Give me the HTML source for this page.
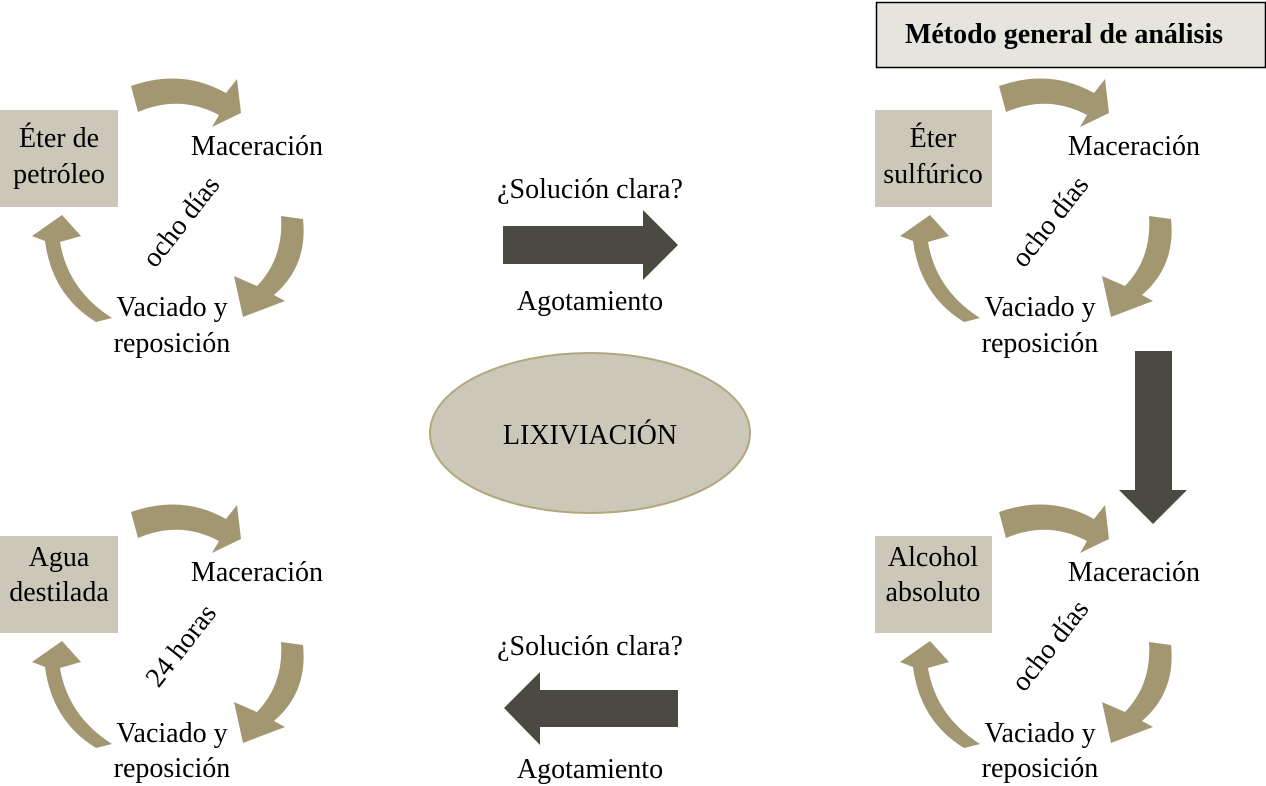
<!DOCTYPE html>
<html><head><meta charset="utf-8"><style>
html,body{margin:0;padding:0;background:#fff}
svg{display:block}
text{font-family:"Liberation Serif",serif;fill:#000}
</style></head><body>
<svg width="1266" height="786" viewBox="0 0 1266 786" xmlns="http://www.w3.org/2000/svg">
<defs>
<g id="cyc" fill="#a39772">
<path d="M131,86 Q182,68 226,93 L237,79 L241,113 L212,127 L219,115 Q180,94 138,112 Z"/>
<path d="M281,216 L303,219 Q308,266 274,295 L285,301 L243,317 L234,276 L257,286 Q284,258 281,216 Z"/>
<path d="M112,318 Q68,290 60,242 L81,236 L62,215 L32,236 L45,241 Q52,295 96,322 Z"/>
</g>
</defs>
<use href="#cyc" x="0" y="0"/>
<use href="#cyc" x="0" y="426"/>
<use href="#cyc" x="868" y="0"/>
<use href="#cyc" x="868" y="426"/>

<rect x="0" y="110" width="118" height="97" fill="#cbc8b9"/>
<rect x="0" y="536" width="118" height="97" fill="#cbc8b9"/>
<rect x="875" y="110" width="117" height="97" fill="#cbc8b9"/>
<rect x="875" y="536" width="117" height="97" fill="#cbc8b9"/>

<g font-size="28" text-anchor="middle">
<text x="59" y="147">Éter de</text><text x="59" y="183">petróleo</text>
<text x="59" y="566">Agua</text><text x="59" y="601">destilada</text>
<text x="933" y="147">Éter</text><text x="933" y="183">sulfúrico</text>
<text x="933" y="566">Alcohol</text><text x="933" y="601">absoluto</text>

<text x="257" y="155">Maceración</text>
<text x="257" y="581">Maceración</text>
<text x="1134" y="155">Maceración</text>
<text x="1134" y="581">Maceración</text>

<text x="172" y="316">Vaciado y</text><text x="172" y="352">reposición</text>
<text x="172" y="742">Vaciado y</text><text x="172" y="777">reposición</text>
<text x="1040" y="316">Vaciado y</text><text x="1040" y="352">reposición</text>
<text x="1040" y="742">Vaciado y</text><text x="1040" y="777">reposición</text>

<text transform="translate(188,227) rotate(-52)">ocho días</text>
<text transform="translate(188,651) rotate(-52)">24 horas</text>
<text transform="translate(1057,227) rotate(-52)">ocho días</text>
<text transform="translate(1057,651) rotate(-52)">ocho días</text>

<text x="590" y="198">¿Solución clara?</text>
<text x="590" y="310">Agotamiento</text>
<text x="590" y="655">¿Solución clara?</text>
<text x="590" y="778">Agotamiento</text>
</g>

<path d="M503,226 H643 V210 L678,245 L643,280 V264 H503 Z" fill="#4a4942"/>
<path d="M678,690 H540 V672 L504,708 L540,745 V727 H678 Z" fill="#4a4942"/>
<path d="M1135,351 H1172 V490 H1187 L1153,524 L1119,490 H1135 Z" fill="#4a4942"/>

<ellipse cx="590" cy="433" rx="160" ry="80" fill="#cbc8b9" stroke="#b3a77c" stroke-width="2"/>
<text x="590" y="444" font-size="28" text-anchor="middle">LIXIVIACIÓN</text>

<rect x="876.5" y="2.5" width="389" height="65" fill="#e6e5dd" stroke="#000" stroke-width="1.5"/>
<text x="1064" y="43" font-size="28" font-weight="bold" text-anchor="middle">Método general de análisis</text>
</svg>
</body></html>
